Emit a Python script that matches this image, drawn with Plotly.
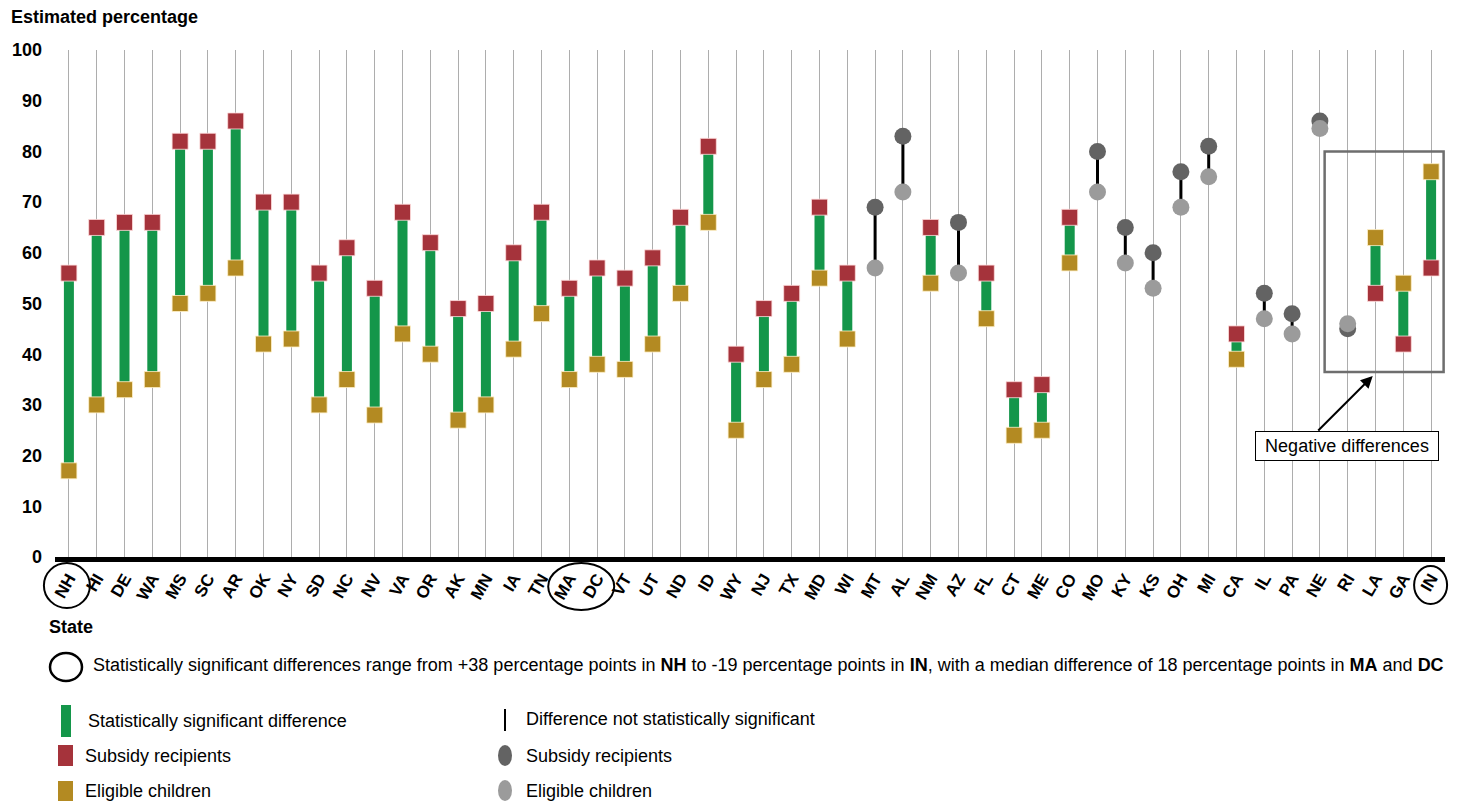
import plotly.graph_objects as go

# ---------------- data ----------------
states = ["NH", "HI", "DE", "WA", "MS", "SC", "AR", "OK", "NY", "SD",
          "NC", "NV", "VA", "OR", "AK", "MN", "IA", "TN", "MA", "DC",
          "VT", "UT", "ND", "ID", "WY", "NJ", "TX", "MD", "WI", "MT",
          "AL", "NM", "AZ", "FL", "CT", "ME", "CO", "MO", "KY", "KS",
          "OH", "MI", "CA", "IL", "PA", "NE", "RI", "LA", "GA", "IN"]
subsidy_recipients = [56, 65, 66, 66, 82, 82, 86, 70, 70, 56,
                      61, 53, 68, 62, 49, 50, 60, 68, 53, 57,
                      55, 59, 67, 81, 40, 49, 52, 69, 56, 69,
                      83, 65, 66, 56, 33, 34, 67, 80, 65, 60,
                      76, 81, 44, 52, 48, 86, 45, 52, 42, 57]
eligible_children = [17, 30, 33, 35, 50, 52, 57, 42, 43, 30,
                     35, 28, 44, 40, 27, 30, 41, 48, 35, 38,
                     37, 42, 52, 66, 25, 35, 38, 55, 43, 57,
                     72, 54, 56, 47, 24, 25, 58, 72, 58, 53,
                     69, 75, 39, 47, 44, 84.5, 46, 63, 54, 76]
not_significant = ["MT", "AL", "AZ", "MO", "KY", "KS", "OH", "MI", "IL", "PA", "NE", "RI"]
y_ticks = list(range(0, 101, 10))

# ---------------- styling ----------------
FONT = "Arial, 'Liberation Sans', sans-serif"
GREEN = "#14964a"
RED = "#a5333b"
GOLD = "#b38a22"
DARK = "#636363"
LIGHT = "#9b9b9b"

OFF = 8  # page body margin
W, H = 1461 - OFF, 802 - OFF
ML, MR, MT_, MB = 55 - OFF, 16, 50 - OFF, 245
PW, PH = W - ML - MR, H - MT_ - MB


def px(xp):
    """reference-pixel x -> paper"""
    return (xp - OFF - ML) / PW


def py(yp):
    """reference-pixel y -> paper"""
    return (H - MB - (yp - OFF)) / PH


sig_x, sig_y, ns_x, ns_y = [], [], [], []
sig_s, sig_sv, sig_e, sig_ev = [], [], [], []
ns_s, ns_sv, ns_e, ns_ev = [], [], [], []
for s, r, e in zip(states, subsidy_recipients, eligible_children):
    if s in not_significant:
        ns_x += [s, s, None]
        ns_y += [e, r, None]
        ns_s.append(s); ns_sv.append(r)
        ns_e.append(s); ns_ev.append(e)
    else:
        sig_x += [s, s, None]
        sig_y += [e, r, None]
        sig_s.append(s); sig_sv.append(r)
        sig_e.append(s); sig_ev.append(e)

fig = go.Figure()
fig.add_trace(go.Scatter(x=sig_x, y=sig_y, mode="lines", line=dict(color=GREEN, width=10),
                         connectgaps=False, hoverinfo="skip", showlegend=False))
fig.add_trace(go.Scatter(x=ns_x, y=ns_y, mode="lines", line=dict(color="black", width=3),
                         connectgaps=False, hoverinfo="skip", showlegend=False))
fig.add_trace(go.Scatter(x=sig_s, y=sig_sv, mode="markers", showlegend=False,
                         marker=dict(symbol="square", size=16, color=RED,
                                     line=dict(color="rgba(255,220,220,0.8)", width=1))))
fig.add_trace(go.Scatter(x=sig_e, y=sig_ev, mode="markers", showlegend=False,
                         marker=dict(symbol="square", size=16, color=GOLD,
                                     line=dict(color="rgba(255,240,200,0.8)", width=1))))
fig.add_trace(go.Scatter(x=ns_s, y=ns_sv, mode="markers", showlegend=False,
                         marker=dict(symbol="circle", size=17, color=DARK, line=dict(width=0))))
fig.add_trace(go.Scatter(x=ns_e, y=ns_ev, mode="markers", showlegend=False,
                         marker=dict(symbol="circle", size=17, color=LIGHT, line=dict(width=0))))

N = len(states)


def cat_px(i):
    """category centre in reference pixels"""
    return ML + OFF + PW * (i + 0.5) / N


shapes = []
# circles around highlighted state labels
i_nh, i_ma, i_dc, i_in = states.index("NH"), states.index("MA"), states.index("DC"), states.index("IN")
mid_madc = (cat_px(i_ma) + cat_px(i_dc)) / 2
for x0, x1, y0, y1 in [
    (cat_px(i_nh) - 25, cat_px(i_nh) + 21, 563, 608),
    (mid_madc - 35, mid_madc + 31, 563, 610),
    (cat_px(i_in) - 17, cat_px(i_in) + 16, 566, 604),
]:
    shapes.append(dict(type="circle", xref="paper", yref="paper",
                       x0=px(x0), x1=px(x1), y0=py(y1), y1=py(y0),
                       line=dict(color="black", width=2)))

# negative differences box
shapes.append(dict(type="rect", xref="x", yref="y", x0=45.17, x1=49.45, y0=36.5, y1=80,
                   line=dict(color="#6e6e6e", width=2.5)))

# legend glyphs
shapes += [
    dict(type="circle", xref="paper", yref="paper", x0=px(50), x1=px(82), y0=py(681), y1=py(653),
         line=dict(color="black", width=2.5)),
    dict(type="rect", xref="paper", yref="paper", x0=px(61), x1=px(71), y0=py(737), y1=py(705),
         fillcolor=GREEN, line=dict(width=0)),
    dict(type="rect", xref="paper", yref="paper", x0=px(58), x1=px(73), y0=py(766), y1=py(745),
         fillcolor=RED, line=dict(width=0)),
    dict(type="rect", xref="paper", yref="paper", x0=px(58), x1=px(73), y0=py(801), y1=py(781),
         fillcolor=GOLD, line=dict(width=0)),
    dict(type="line", xref="paper", yref="paper", x0=px(505), x1=px(505), y0=py(731), y1=py(709),
         line=dict(color="black", width=2)),
    dict(type="circle", xref="paper", yref="paper", x0=px(498), x1=px(512), y0=py(766), y1=py(745),
         fillcolor=DARK, line=dict(width=0)),
    dict(type="circle", xref="paper", yref="paper", x0=px(498), x1=px(512), y0=py(801), y1=py(780),
         fillcolor=LIGHT, line=dict(width=0)),
]

TXT = dict(family=FONT, size=18, color="black")
annotations = [
    dict(text="<b>Estimated percentage</b>", xref="paper", yref="paper", x=px(9), y=py(17),
         xanchor="left", yanchor="middle", showarrow=False, font=TXT),
    dict(text="<b>State</b>", xref="paper", yref="paper", x=px(47), y=py(627),
         xanchor="left", yanchor="middle", showarrow=False, font=TXT),
    dict(text="Statistically significant differences range from +38 percentage points in <b>NH</b> to -19 "
              "percentage points in <b>IN</b>, with a median difference of 18 percentage points in "
              "<b>MA</b> and <b>DC</b>",
         xref="paper", yref="paper", x=px(91), y=py(665), xanchor="left", yanchor="middle",
         showarrow=False, font=TXT),
    dict(text="Statistically significant difference", xref="paper", yref="paper", x=px(86), y=py(721),
         xanchor="left", yanchor="middle", showarrow=False, font=TXT),
    dict(text="Subsidy recipients", xref="paper", yref="paper", x=px(83), y=py(756),
         xanchor="left", yanchor="middle", showarrow=False, font=TXT),
    dict(text="Eligible children", xref="paper", yref="paper", x=px(83), y=py(791),
         xanchor="left", yanchor="middle", showarrow=False, font=TXT),
    dict(text="Difference not statistically significant", xref="paper", yref="paper", x=px(524), y=py(719),
         xanchor="left", yanchor="middle", showarrow=False, font=TXT),
    dict(text="Subsidy recipients", xref="paper", yref="paper", x=px(524), y=py(756),
         xanchor="left", yanchor="middle", showarrow=False, font=TXT),
    dict(text="Eligible children", xref="paper", yref="paper", x=px(524), y=py(791),
         xanchor="left", yanchor="middle", showarrow=False, font=TXT),
    # arrow to negative differences box
    dict(text="", x=46.9, y=35.7, xref="x", yref="y", ax=-56, ay=56, axref="pixel", ayref="pixel",
         showarrow=True, arrowhead=2, arrowsize=1.2, arrowwidth=2, arrowcolor="black", standoff=0),
    dict(text="Negative differences", x=45.98, y=21.9, xref="x", yref="y", showarrow=False,
         xanchor="center", yanchor="middle", font=TXT, bgcolor="white",
         bordercolor="black", borderwidth=1, borderpad=3, width=176, height=22),
]

fig.update_layout(
    width=W, height=H,
    margin=dict(l=ML, r=MR, t=MT_, b=MB, autoexpand=False),
    paper_bgcolor="white", plot_bgcolor="white",
    font=dict(family=FONT, color="black"),
    shapes=shapes, annotations=annotations,
    xaxis=dict(type="category", categoryorder="array", categoryarray=states,
               range=[-0.5, N - 0.5], showgrid=True, gridcolor="#adadad", gridwidth=1,
               showline=True, linecolor="black", linewidth=5, ticks="",
               tickangle=-60, tickfont=dict(family=FONT, size=17, color="black"),
               tickprefix="<b>", ticksuffix="</b>", zeroline=False, fixedrange=True),
    yaxis=dict(range=[0, 100], tickvals=y_ticks, ticktext=[f"<b>{v}</b>" for v in y_ticks],
               showgrid=False, zeroline=False, showline=False, ticks="",
               tickfont=dict(family=FONT, size=18, color="black"), ticklabelstandoff=12,
               fixedrange=True),
)

fig.write_html("out.html")
